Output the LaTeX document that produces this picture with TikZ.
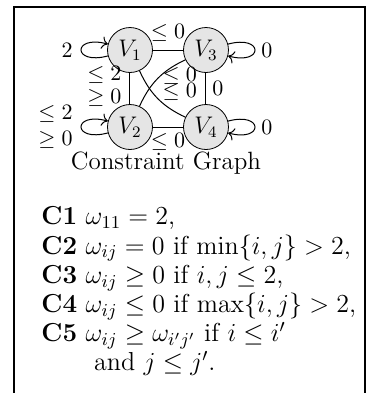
\RequirePackage{fix-cm}
\documentclass[tikz,border=0pt]{standalone}
\usepackage{amsmath, amssymb}
\usetikzlibrary{arrows.meta, positioning}

\tikzset{
  vertex/.style={circle, draw, fill=gray!20, minimum size=22.5pt, inner sep=0pt,
    font=\fontsize{12}{14}\selectfont},
  link/.style={line width=0.5pt},
  selfloop/.style={line width=0.5pt, -{To[length=3pt]}, looseness=7},
  lbl/.style={font=\fontsize{11}{13}\selectfont, inner sep=1pt}
}

\begin{document}
\begin{tikzpicture}[x=0.5pt, y=-0.5pt]
  \useasboundingbox (0,0) rectangle (370,393);
  % frame (open at the bottom)
  \draw[line width=0.7pt] (14,393) -- (14,7) -- (365,7) -- (365,393);

  % constraint graph
  \node[vertex] (v1) at (130,50) {$V_1$};
  \node[vertex] (v3) at (206,50) {$V_3$};
  \node[vertex] (v2) at (130,127) {$V_2$};
  \node[vertex] (v4) at (206,127) {$V_4$};

  \draw[link] (v1) -- node[lbl, above=3pt] {$\le 0$} (v3);
  \draw[link] (v2) -- node[lbl, below=2pt] {$\le 0$} (v4);
  \draw[link] (v1) -- node[lbl, left=3pt, yshift=7pt] {$\le 2$}
                      node[lbl, left=3pt, yshift=-4.5pt] {$\ge 0$} (v2);
  \draw[link] (v3) -- node[lbl, right=2pt] {$0$} (v4);
  \draw[link] (v2) to[bend left=20]
    node[lbl, pos=0.8, xshift=3.5pt, yshift=-4.5pt] {$\le 0$} (v3);
  \draw[link] (v1) to[bend right=20]
    node[lbl, pos=0.8, xshift=3.5pt, yshift=9pt] {$\le 0$} (v4);

  % self loops
  \draw[selfloop] (v1) to[loop left] node[lbl, left=3pt] {$2$} (v1);
  \draw[selfloop] (v3) to[loop right] node[lbl, right=2pt] {$0$} (v3);
  \draw[selfloop] (v4) to[loop right] node[lbl, right=2pt] {$0$} (v4);
  \draw[selfloop] (v2) to[loop left]
    node[lbl, left=3pt, align=center] {$\le 2$\\[0pt]$\ge 0$} (v2);

  \node[font=\fontsize{12.5}{14}\selectfont] (title) at (166,163) {Constraint Graph};

  % constraints
  \node[anchor=north west, inner sep=0pt, font=\fontsize{13}{14.6}\selectfont]
    (rules) at (41,204) {%
    \begin{tabular}{@{}l@{\ }l@{}}
      \textbf{C1} & $\omega_{11} = 2$, \\
      \textbf{C2} & $\omega_{ij} = 0$ if $\min\{i,j\} > 2$, \\
      \textbf{C3} & $\omega_{ij} \ge 0$ if $i,j \le 2$, \\
      \textbf{C4} & $\omega_{ij} \le 0$ if $\max\{i,j\} > 2$, \\
      \textbf{C5} & $\omega_{ij} \ge \omega_{i'j'}$ if $i \le i'$ \\
                  & \ and $j \le j'$.
    \end{tabular}};
\end{tikzpicture}
\end{document}
